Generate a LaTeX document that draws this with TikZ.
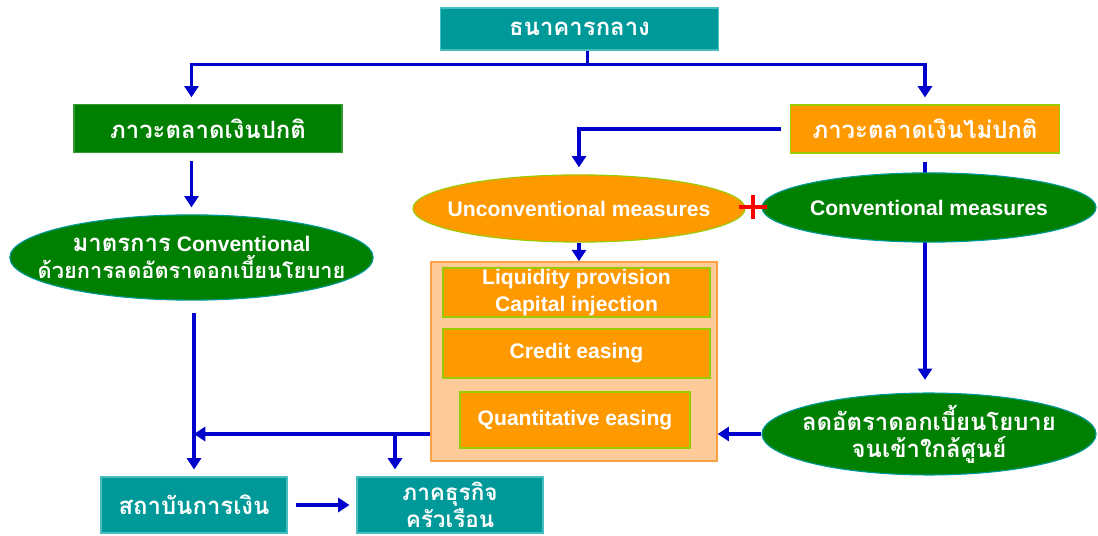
\documentclass[tikz,border=0pt]{standalone}
\usepackage{fontspec}
\setmainfont{Liberation Sans}
\newfontfamily\thaifont[Script=Thai]{Loma}
\newcommand{\thaistyle}{\thaifont\fontsize{17}{20}\selectfont}
\newcommand{\thaismall}{\thaifont\fontsize{16}{17}\selectfont}
\usepackage{tikz}
\usetikzlibrary{shapes.geometric,arrows.meta}
\definecolor{cteal}{RGB}{0,153,153}
\definecolor{ctealedge}{RGB}{70,190,190}
\definecolor{cgreen}{RGB}{0,128,0}
\definecolor{corange}{RGB}{255,153,0}
\definecolor{climeedge}{RGB}{153,204,0}
\definecolor{cpeach}{RGB}{255,204,153}
\definecolor{cpeachedge}{RGB}{255,160,70}
\definecolor{cblue}{RGB}{0,0,204}

\begin{document}
\begin{tikzpicture}[x=0.025cm, y=-0.025cm,
    box/.style={rectangle, inner sep=0pt, text=white, align=center, line width=0.8pt, font=\bfseries\fontsize{15}{19}\selectfont},
    tealbox/.style={box, fill=cteal, draw=ctealedge},
    greenbox/.style={box, fill=cgreen, draw=cgreen!80!white},
    orangebox/.style={box, fill=corange, draw=climeedge},
    measurebox/.style={box, fill=corange, draw=climeedge, line width=1pt},
    outerbox/.style={rectangle, inner sep=0pt, fill=cpeach, draw=cpeachedge, line width=1pt},
    ell/.style={ellipse, inner xsep=-2cm, inner ysep=0pt, text=white, align=center, line width=0.8pt, font=\bfseries\fontsize{15}{19}\selectfont},
    greenell/.style={ell, fill=cgreen, draw=cteal},
    orangeell/.style={ell, fill=corange, draw=climeedge},
    flowarrow/.style={-{Triangle[length=8pt,width=10pt]}, line width=2.2pt, draw=cblue, shorten >=5pt}
]
    \useasboundingbox (0,0) rectangle (1098,536);

    % Central bank and market conditions
    \node[tealbox, minimum width=6.93cm, minimum height=1.05cm] (bank) at (579.5,29) {\thaistyle ธนาคารกลาง};
    \node[greenbox, minimum width=6.7cm, minimum height=1.18cm] (normal) at (208,128.5) {\thaistyle ภาวะตลาดเงินปกติ};
    \node[orangebox, minimum width=6.73cm, minimum height=1.2cm] (abnormal) at (925,129) {\thaistyle ภาวะตลาดเงินไม่ปกติ};

    % Measures
    \node[orangeell, minimum width=8.3cm, minimum height=1.68cm] (unconv) at (579,208.5) {Unconventional measures};
    \node[greenell, minimum width=9.08cm, minimum height=2.13cm] (convtool) at (191.5,257.5) {{\thaistyle มาตรการ} Conventional\\{\thaifont\fontsize{15.5}{19}\selectfont ด้วยการลดอัตราดอกเบี้ยนโยบาย}};
    \node[greenell, minimum width=8.35cm, minimum height=1.95cm] (zerorate) at (929,434) {\thaistyle ลดอัตราดอกเบี้ยนโยบาย\\{\thaistyle จนเข้าใกล้ศูนย์}};

    % Unconventional tools
    \node[outerbox, minimum width=7.15cm, minimum height=4.98cm] (toolbox) at (574,361.5) {};
    \node[measurebox, minimum width=6.68cm, minimum height=1.23cm] (liquidity) at (576.5,292.5) {Liquidity provision\\Capital injection};
    \node[measurebox, minimum width=6.68cm, minimum height=1.23cm] (credit) at (576.5,353.5) {Credit easing};
    \node[measurebox, minimum width=5.75cm, minimum height=1.4cm] (qe) at (575,420) {Quantitative easing};

    % Receivers
    \node[tealbox, minimum width=4.65cm, minimum height=1.4cm] (finance) at (194,505) {\thaistyle สถาบันการเงิน};
    \node[tealbox, minimum width=4.65cm, minimum height=1.4cm] (household) at (450,505) {\thaismall ภาคธุรกิจ\\{\thaismall ครัวเรือน}};

    % Line behind the conventional ellipse
    \draw[flowarrow, shorten <=6pt, shorten >=9pt] (abnormal.south) -- (abnormal.south |- zerorate.north);
    \node[greenell, minimum width=8.35cm, minimum height=1.73cm] (convmeasure) at (929,207.5) {Conventional measures};

    % Plus sign
    \node[inner sep=0pt, minimum width=0.68cm, minimum height=0.58cm] (plus) at (753,207) {};
    \draw[red, line width=2.6pt] (plus.north) -- (plus.south) (plus.west) -- (plus.east);

    % Arrows
    \draw[flowarrow] ([xshift=0.19cm]bank.south) -- ++(0,14) coordinate (fork) -| (convtool.north |- normal.north);
    \draw[flowarrow] (fork) -| (abnormal.north);
    \draw[flowarrow, shorten <=6pt] (convtool.north |- normal.south) -- (convtool.north);
    \draw[flowarrow, shorten <=6pt] (abnormal.west) -| (unconv.north);
    \draw[flowarrow, shorten >=0pt] (unconv.south) -- (unconv.south |- toolbox.north);
    \draw[flowarrow, shorten >=0pt] (zerorate.west) -- (toolbox.east |- zerorate.west);
    \draw[flowarrow, shorten >=0pt] (toolbox.west |- zerorate.west) -- (finance.north |- zerorate.west);
    \coordinate (split) at (395,434);
    \draw[flowarrow] (split) -- (split |- household.north);
    \draw[flowarrow, shorten <=9pt] (finance.north |- convtool.south) -- (finance.north);
    \draw[flowarrow, shorten <=6pt] (finance.east) -- (household.west);
\end{tikzpicture}
\end{document}
